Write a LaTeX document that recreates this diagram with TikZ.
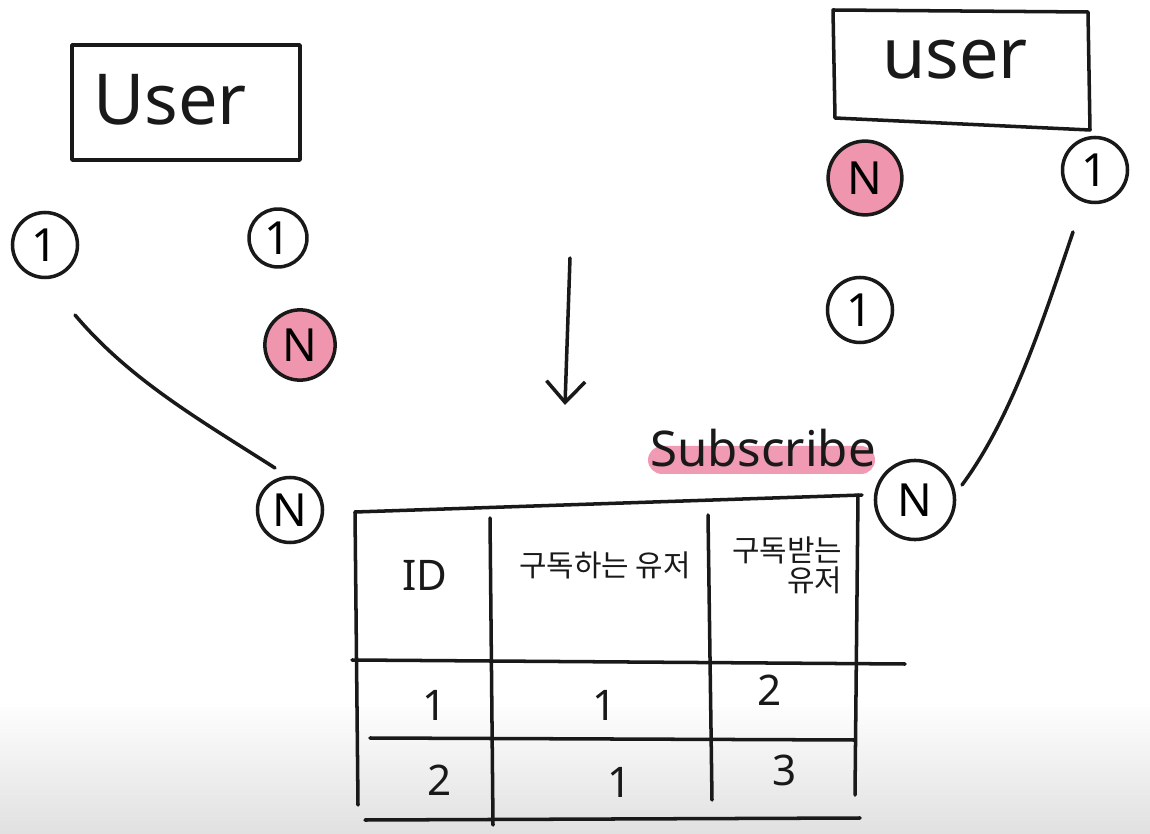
\documentclass[tikz,border=0pt]{standalone}
\usepackage{fontspec}
\setmainfont{Noto Sans}
\newfontfamily\kr{Noto Sans CJK KR}
\usetikzlibrary{arrows.meta}
\definecolor{hlpink}{RGB}{236,130,160}
\definecolor{ink}{RGB}{25,25,25}
\tikzset{
  pen/.style={draw=ink, line width=2pt, line cap=round, line join=round},
  circ/.style={pen, circle, inner sep=0pt, font=\fontsize{26}{28}\selectfont},
  pinkcirc/.style={circ, fill=hlpink!85},
  userlbl/.style={font=\fontsize{40}{44}\selectfont, text=ink},
  cell/.style={font=\fontsize{24}{26}\selectfont, text=ink},
  krcell/.style={font=\kr\fontsize{17}{19}\selectfont, text=ink}
}
\begin{document}
\begin{tikzpicture}[x=0.02cm, y=-0.02cm]
\useasboundingbox (0,0) rectangle (1150,834);
\shade[top color=white, bottom color=black!12] (0,700) rectangle (1150,834);
% left user
\draw[pen] (72,45) rectangle (300,160);
\node[userlbl] (userL) at (170,100) {User};
\node[circ, minimum size=37pt] (l1a) at (45,245) {1};
\node[circ, minimum size=33pt] (l1b) at (278,238) {1};
\node[pinkcirc, minimum size=40pt] (lNa) at (300,345) {N};
\node[circ, minimum size=37pt] (lNb) at (290,510) {N};
\coordinate (la) at (75,315);
\coordinate (lb) at (275,468);
\draw[pen] (la) .. controls (130,380) and (200,420) .. (lb);
% arrow
\coordinate (ar1) at (570,258);
\coordinate (ar2) at (565,405);
\draw[pen, -{Straight Barb[length=12pt,width=22pt]}] (ar1) -- (ar2);
% right user
\draw[pen] (833,10) -- (1088,12) -- (1090,130) -- (835,118) -- cycle;
\node[userlbl] (userR) at (955,60) {user};
\node[pinkcirc, minimum size=42pt] (rNa) at (865,178) {N};
\node[circ, minimum size=37pt] (r1a) at (1095,170) {1};
\node[circ, minimum size=37pt] (r1b) at (860,310) {1};
\node[circ, minimum size=45pt] (rNb) at (915,500) {N};
\coordinate (ra) at (1073,232);
\coordinate (rb) at (962,485);
\draw[pen] (ra) .. controls (1040,330) and (1010,420) .. (rb);
% subscribe
\fill[hlpink!80, rounded corners=8pt] (648,446) rectangle (875,474);
\node[font=\fontsize{28}{30}\selectfont, text=ink] (sub) at (763,448) {Subscribe};
% table
\draw[pen] (355,512) -- (862,495);
\draw[pen] (355,512) -- (358,805);
\draw[pen] (490,518) -- (493,825);
\draw[pen] (708,515) -- (712,800);
\draw[pen] (858,495) -- (855,795);
\draw[pen] (352,660) -- (905,664);
\draw[pen] (370,738) -- (855,740);
\draw[pen] (365,820) -- (860,818);
\node[cell] (hid) at (425,575) {ID};
\node[krcell] (hsub) at (605,565) {구독하는 유저};
\node[krcell, align=right] (hrec) at (785,565) {구독받는\\[-2pt]\hspace*{2em}유저};
\node[cell] (c11) at (435,705) {1};
\node[cell] (c12) at (605,705) {1};
\node[cell] (c13) at (770,690) {2};
\node[cell] (c21) at (440,780) {2};
\node[cell] (c22) at (620,782) {1};
\node[cell] (c23) at (785,770) {3};
\end{tikzpicture}
\end{document}
